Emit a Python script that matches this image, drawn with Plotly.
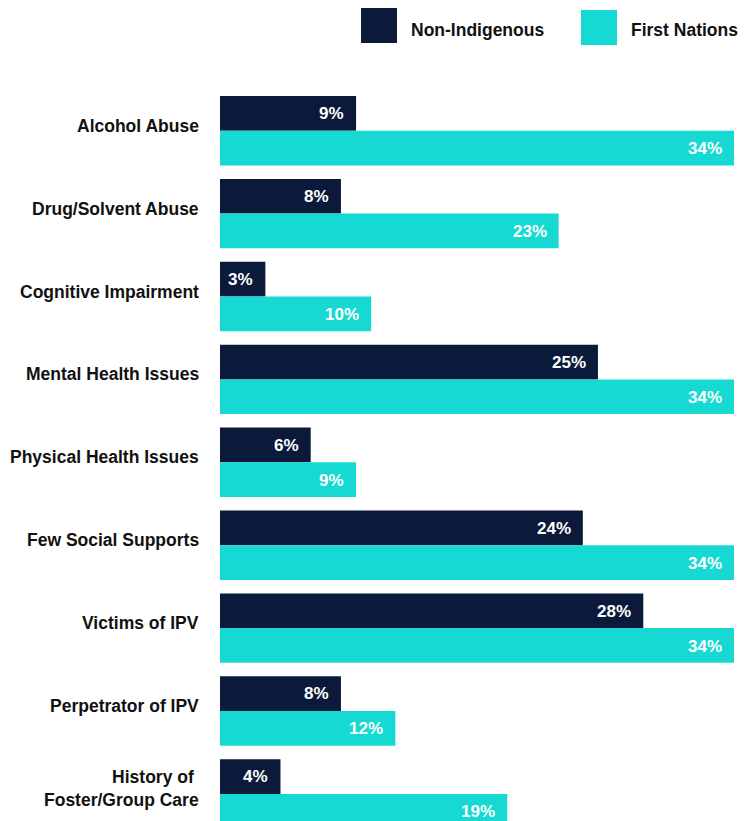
import plotly.graph_objects as go

categories = ["Alcohol Abuse", "Drug/Solvent Abuse", "Cognitive Impairment",
              "Mental Health Issues", "Physical Health Issues", "Few Social Supports",
              "Victims of IPV", "Perpetrator of IPV", "History of <br>Foster/Group Care"]
# bar lengths as drawn (percent)
non_indigenous = [9, 8, 3, 25, 6, 24, 28, 8, 4]
first_nations = [34, 22.4, 10, 34, 9, 34, 34, 11.6, 19]
# value labels as printed on the bars
non_indigenous_labels = ["9%", "8%", "3%", "25%", "6%", "24%", "28%", "8%", "4%"]
first_nations_labels = ["34%", "23%", "10%", "34%", "9%", "34%", "34%", "12%", "19%"]
series_names = ["Non-Indigenous", "First Nations"]

DARK = "#0b1a3b"
CYAN = "#17d9d3"
FONT = "Liberation Sans"

W, H = 754, 821
ML, MR, MT, MB = 220, 20, 60, 0

def px_x(p):
    return (p - ML) / (W - ML - MR)

def px_y(p):
    return (H - MB - p) / (H - MT - MB)

fig = go.Figure()
fig.add_trace(go.Bar(y=categories, x=non_indigenous, orientation="h", name=series_names[0],
                     marker=dict(color=DARK, line=dict(width=0)), hoverinfo="x+y"))
fig.add_trace(go.Bar(y=categories, x=first_nations, orientation="h", name=series_names[1],
                     marker=dict(color=CYAN, line=dict(width=0)), hoverinfo="x+y"))

annotations = []
for cat, v, lab in zip(categories, non_indigenous, non_indigenous_labels):
    annotations.append(dict(x=v, y=cat, xref="x", yref="y", text=lab, showarrow=False,
                            xanchor="right", yanchor="middle", xshift=-10, yshift=17,
                            font=dict(family=FONT, size=17, color="white", weight="bold")))
for cat, v, lab in zip(categories, first_nations, first_nations_labels):
    annotations.append(dict(x=v, y=cat, xref="x", yref="y", text=lab, showarrow=False,
                            xanchor="right", yanchor="middle", xshift=-10, yshift=-18,
                            font=dict(family=FONT, size=17, color="white", weight="bold")))

# category labels
for cat in categories:
    annotations.append(dict(x=0, y=cat, xref="paper", yref="y", text=cat, showarrow=False,
                            xanchor="right", yanchor="middle", align="right",
                            xshift=-19, yshift=5,
                            font=dict(family=FONT, size=17.5, color="#111111", weight="bold")))

# legend
shapes = []
legend_items = [(series_names[0], DARK, 361, 8, 409), (series_names[1], CYAN, 581, 10, 629)]
for name, col, x0, y0, tx in legend_items:
    shapes.append(dict(type="rect", xref="paper", yref="paper",
                       x0=px_x(x0), x1=px_x(x0 + 36), y0=px_y(y0 + 35), y1=px_y(y0),
                       fillcolor=col, line=dict(width=0)))
    annotations.append(dict(x=px_x(tx), y=px_y(30), xref="paper", yref="paper", text=name,
                            showarrow=False, xanchor="left", yanchor="middle",
                            font=dict(family=FONT, size=17.5, color="#111111", weight="bold")))

fig.update_layout(
    width=W, height=H,
    margin=dict(l=ML, r=MR, t=MT, b=MB, pad=0),
    paper_bgcolor="white", plot_bgcolor="white",
    barmode="group", bargap=0.163, bargroupgap=0,
    showlegend=False,
    shapes=shapes, annotations=annotations,
    font=dict(family=FONT),
)
fig.update_xaxes(range=[0, 34], visible=False, fixedrange=True)
fig.update_yaxes(range=[8.327, -0.853], showgrid=False, zeroline=False, showline=False,
                 ticks="", showticklabels=False, fixedrange=True)

fig.write_html("out.html", config={"displayModeBar": False},
               post_script="document.body.style.margin='0';document.body.style.overflow='hidden';")
